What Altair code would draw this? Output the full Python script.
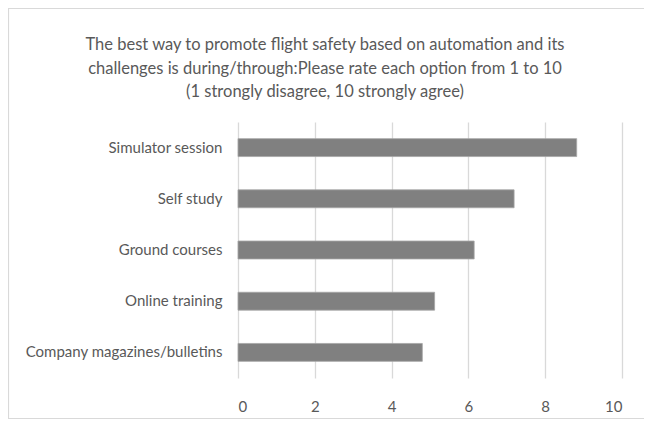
import altair as alt
import pandas as pd

categories = ["Simulator session", "Self study", "Ground courses",
              "Online training", "Company magazines/bulletins"]
values = [8.82, 7.19, 6.15, 5.12, 4.80]
x_ticks = [0, 2, 4, 6, 8, 10]
title_lines = [
    "The best way to promote flight safety based on automation and its",
    "challenges is during/through:Please rate each option from 1 to 10",
    "(1  strongly disagree, 10  strongly agree)",
]

FONT = "Lato"
GREY_TEXT = "#595959"

df = pd.DataFrame({"option": categories, "score": values})

W, H = 384, 256
PAD = {"left": 230, "top": 114, "right": 22, "bottom": 41}

bars = alt.Chart(df).mark_bar(color="#808080", stroke="#a6a6a6", strokeWidth=0.8).encode(
    x=alt.X("score:Q",
            scale=alt.Scale(domain=[0, 10], nice=False),
            axis=alt.Axis(values=x_ticks, title=None, domain=False, ticks=False,
                          grid=True, gridColor="#d9d9d9", gridWidth=1.3,
                          labelFont=FONT, labelFontSize=15, labelColor=GREY_TEXT,
                          labelPadding=21)),
    y=alt.Y("option:N", sort=categories,
            scale=alt.Scale(paddingInner=0.65, paddingOuter=0.325),
            axis=alt.Axis(title=None, domain=False, ticks=False, grid=False,
                          labelFont=FONT, labelFontSize=15, labelColor=GREY_TEXT,
                          labelPadding=16, labelLimit=300)),
)

frame = alt.Chart(alt.Data(values=[{}])).mark_rect(
    fill=None, stroke="#d9d9d9", strokeWidth=1.2, clip=False
).encode(
    x=alt.value(-PAD["left"] + 0.5),
    x2=alt.value(W + PAD["right"] + 10),
    y=alt.value(-PAD["top"] + 0.5),
    y2=alt.value(H + PAD["bottom"] - 0.5),
)

title = alt.Chart(alt.Data(values=[{}])).mark_text(
    font=FONT, fontSize=16.5, color=GREY_TEXT, align="center", baseline="middle",
    lineHeight=23.5, clip=False,
).encode(
    x=alt.value(87),
    y=alt.value(-77),
    text=alt.value(title_lines),
)

chart = alt.layer(frame, title, bars).properties(
    width=W, height=H,
    padding=PAD,
    autosize=alt.AutoSizeParams(type="none"),
).configure_view(stroke=None)

chart.save("out.html", embed_options={"renderer": "svg", "actions": False})
